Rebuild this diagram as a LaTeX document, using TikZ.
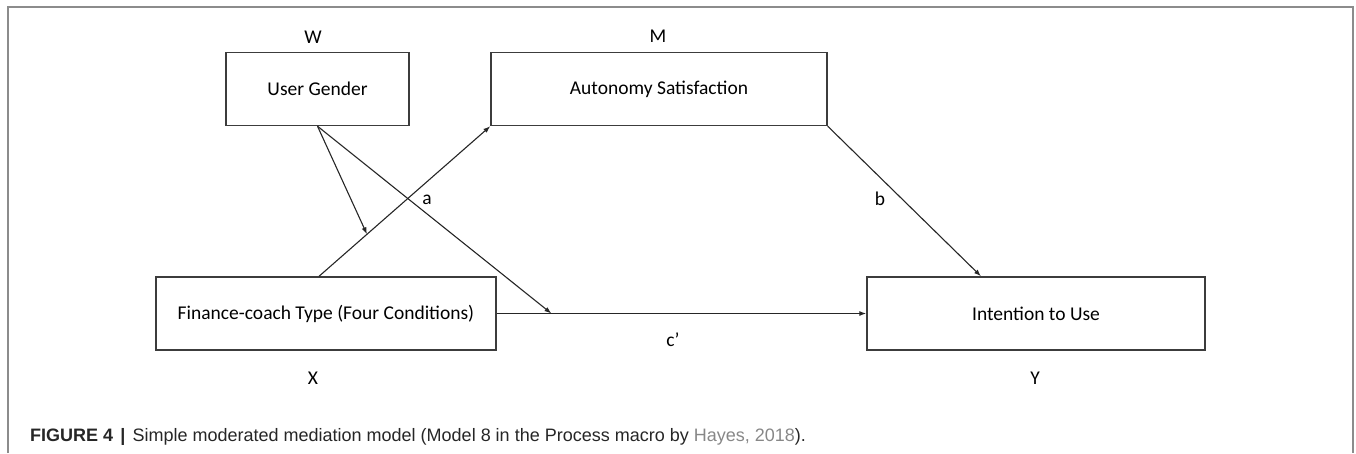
\documentclass[tikz,border=0pt]{standalone}
\usepackage{fontspec}
\setmainfont{Carlito}
\newfontfamily\capfont{Liberation Sans}
\usepackage{tikz}
\usetikzlibrary{calc, positioning, arrows.meta}

\definecolor{framegray}{RGB}{140,140,140}
\definecolor{linkgray}{RGB}{135,135,135}
\definecolor{boxline}{RGB}{60,60,60}

\tikzset{
  varbox/.style={draw=boxline, line width=1.4pt, minimum height=73pt,
    inner sep=0pt, font=\fontsize{19.5}{23}\selectfont},
  varname/.style={font=\fontsize{19.5}{23}\selectfont},
  effect/.style={-{Latex[length=7pt, width=5pt]}, line width=1.1pt, draw=black!85},
  coef/.style={font=\fontsize{19.5}{23}\selectfont}
}

\begin{document}
\begin{tikzpicture}[x=1pt, y=-1pt]
  \useasboundingbox (0,0) rectangle (1356,453);
  % outer frame
  \draw [framegray, line width=1.2pt] (8,453) -- (8,7) -- (1353,7) -- (1353,453);
  % variables
  \node [varbox, minimum width=183pt] (gender) at (317.5,89) {User Gender};
  \node [varbox, minimum width=336pt] (auto) at (659,89) {Autonomy Satisfaction};
  \node [varbox, minimum width=340pt] (coach) at (326,313.5) {Finance-coach Type (Four Conditions)};
  \node [varbox, minimum width=338pt] (intent) at (1036,313.5) {Intention to Use};
  \node [varname] (w) at (313,37) {W};
  \node [varname] (m) at (658,36) {M};
  \node [varname] (x) at (313,378) {X};
  \node [varname] (y) at (1035,378) {Y};
  % paths
  \draw [effect] ([xshift=-7pt]coach.north) -- (auto.south west)
    coordinate [pos=0.28] (modA);
  \draw [effect] (coach.east) -- (intent.west)
    coordinate [pos=0.148] (modC);
  \draw [effect] (auto.south east) -- ([xshift=-55pt]intent.north);
  \draw [effect] (gender.south) -- (modA);
  \draw [effect] (gender.south) -- (modC);
  \node [coef] (a) at (427,200) {a};
  \node [coef] (b) at (880,199) {b};
  \node [coef] (c) at (673,340) {c\textquoteright};
  % caption
  \node [anchor=west, inner sep=0pt, text=black!85,
    font=\capfont\fontsize{18}{21}\selectfont] (cap) at (30,437)
    {\textbf{FIGURE 4}\hspace{0.4em}\textbf{|}\hspace{0.4em}Simple moderated mediation model (Model 8 in the Process macro by \textcolor{linkgray}{Hayes, 2018}).};
\end{tikzpicture}
\end{document}
